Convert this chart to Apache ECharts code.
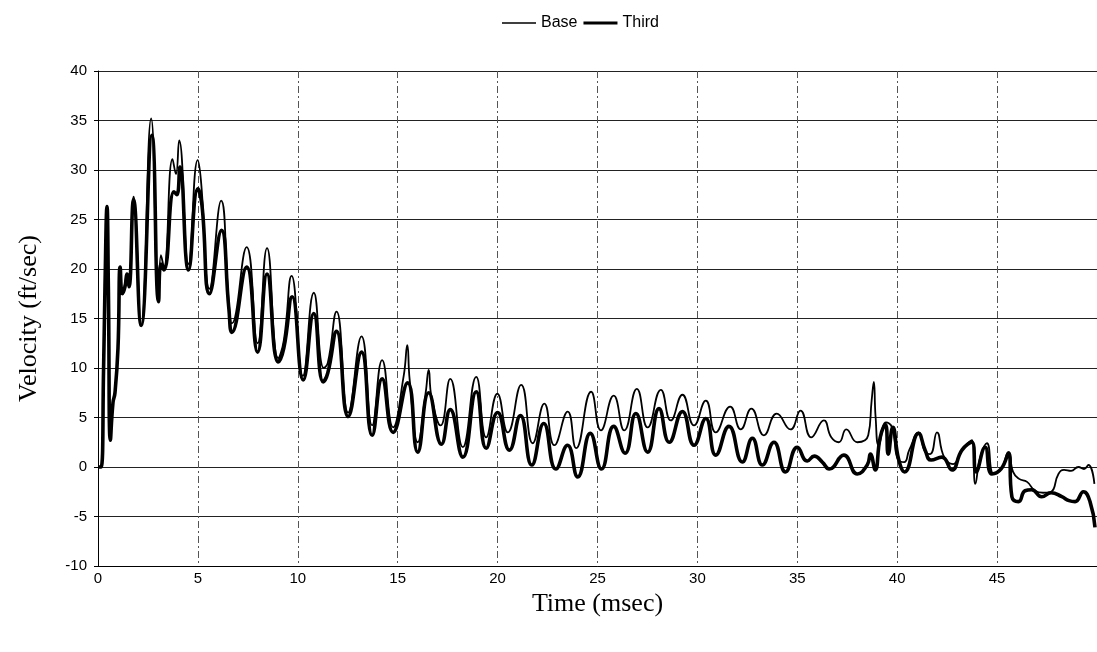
<!DOCTYPE html>
<html>
<head>
<meta charset="utf-8">
<script src="https://cdn.jsdelivr.net/npm/echarts@6/dist/echarts.min.js"></script>
<style>
html,body{margin:0;padding:0;background:#fff;}
#chart{width:1097px;height:652px;}
</style>
</head>
<body>
<div id="chart"></div>
<script>
const seriesNames = ['Base', 'Third'];
const xTicks = [0, 5, 10, 15, 20, 25, 30, 35, 40, 45];
const yTicks = [-10, -5, 0, 5, 10, 15, 20, 25, 30, 35, 40];

// Base: [time (msec), velocity (ft/sec)]
const baseData = [
 [0,0],[0.15,0],[0.28,10],[0.35,18.3],[0.45,26.3],[0.52,18],[0.62,3],[0.75,6.5],[0.85,7.5],[1.0,12],
 [1.11,20.2],[1.22,17.5],[1.35,18.5],[1.45,19.5],[1.55,18.5],[1.78,27.3],[2.16,14.3],[2.66,35.2],[3.03,16.7],[3.15,21.4],
 [3.3,20.2],[3.73,31.1],[3.9,29.6],[4.06,33],[4.53,20.5],[4.99,31],[5.15,29],[5.58,18],[6.16,26.9],[6.55,16.5],
 [6.7,14.5],[7.44,22.2],[7.99,12.5],[8.46,22.1],[9.02,11],[9.3,12.8],[9.69,19.3],[10.25,9.2],[10.8,17.6],[11.3,10],
 [11.5,10.5],[11.94,15.7],[12.52,5.5],[13.19,13.2],[13.72,4.2],[14.22,10.8],[14.77,4],[15.3,9.2],[15.48,12.3],[15.6,8.8],
 [16.0,2.5],[16.4,7.5],[16.55,9.8],[16.7,7],[17.15,4.2],[17.63,8.9],[18.26,2],[18.93,9.1],[19.43,3],[19.99,7.4],
 [20.51,3.5],[21.18,8.3],[21.76,2.4],[22.34,6.4],[22.84,2.2],[23.51,5.6],[23.93,1.9],[24.68,7.6],[25.17,3.7],[25.81,7.2],
 [26.34,3.7],[26.97,7.9],[27.51,4.0],[28.17,7.8],[28.67,4.7],[29.25,7.3],[29.83,4.2],[30.42,6.7],[30.92,3.5],[31.64,6.1],
 [32.17,3.8],[32.7,5.9],[33.33,3.2],[33.97,5.4],[34.66,3.8],[35.16,5.7],[35.7,3.0],[36.33,4.7],[36.7,3.0],[37.08,2.5],
 [37.45,3.8],[38.0,2.5],[38.55,3.2],[38.72,6.7],[38.83,8.6],[38.92,5],[39.08,2.2],[39.44,4.5],[39.74,4.0],[40.05,0.7],
 [40.35,0.5],[40.6,1.7],[41.07,3.5],[41.4,1.5],[41.65,1.3],[41.99,3.5],[42.35,1.0],[42.8,0.3],[43.24,1.7],[43.74,2.7],
 [43.91,-1.7],[44.16,1.0],[44.49,2.4],[44.83,-0.7],[45.2,-0.2],[45.57,1.5],[45.8,-0.5],[46.1,-1.2],[46.5,-1.5],[46.9,-2.4],
 [47.3,-2.6],[47.7,-2.5],[48.07,-0.7],[48.35,-0.3],[48.7,-0.4],[49.07,0],[49.35,-0.2],[49.57,0.2],[49.87,-1.7]
];

// Third: [time (msec), velocity (ft/sec)]
const thirdData = [
 [0,0],[0.15,0],[0.28,10],[0.35,18.3],[0.45,26.3],[0.52,18],[0.62,2.7],[0.75,6.5],[0.85,7.5],[1.0,12],
 [1.11,20.2],[1.22,17.5],[1.35,18.2],[1.45,19.5],[1.55,18.2],[1.78,27],[2.16,14.3],[2.7,33.5],[3.03,16.7],[3.15,20.5],
 [3.3,19.9],[3.8,27.8],[3.95,27.5],[4.1,30.3],[4.53,19.9],[5.0,28.1],[5.2,26.5],[5.58,17.5],[6.18,23.9],[6.55,16],
 [6.7,13.6],[7.44,20.2],[7.99,11.6],[8.46,19.5],[9.02,10.6],[9.3,12],[9.72,17.2],[10.27,8.8],[10.8,15.5],[11.27,8.6],
 [11.5,9.5],[11.94,13.7],[12.52,5.1],[13.19,11.6],[13.72,3.2],[14.22,8.9],[14.77,3.5],[15.5,8.5],[16.0,1.5],[16.55,7.5],
 [17.19,2.3],[17.63,5.8],[18.26,1.0],[18.93,7.6],[19.43,1.9],[20.0,5.5],[20.59,1.7],[21.14,5.2],[21.71,0.2],[22.31,4.4],
 [22.92,-0.2],[23.5,2.2],[24.01,-1.0],[24.64,3.4],[25.2,-0.2],[25.81,4.1],[26.38,1.4],[26.92,5.4],[27.51,1.5],[28.08,5.9],
 [28.59,2.5],[29.25,5.6],[29.83,2.2],[30.42,4.9],[30.92,1.2],[31.58,4.1],[32.25,0.5],[32.75,2.9],[33.25,0.2],[33.83,2.5],
 [34.41,-0.5],[35.0,2.0],[35.5,0.6],[35.85,1.1],[36.25,0.5],[36.6,-0.2],[37.33,1.2],[38.0,-0.7],[38.5,0.2],[38.66,1.3],
 [38.9,-0.3],[39.15,3.0],[39.41,4.3],[39.55,1.3],[39.78,4.0],[40.08,0.7],[40.37,-0.5],[41.07,3.4],[41.4,1.7],[41.7,0.7],
 [42.24,1.0],[42.74,-0.3],[43.24,1.7],[43.74,2.5],[43.95,-0.5],[44.4,2.0],[44.74,-0.7],[45.2,-0.2],[45.57,1.4],[45.74,-3.0],
 [46.07,-3.5],[46.4,-2.4],[46.73,-2.3],[47.23,-3.0],[47.7,-2.6],[48.24,-3.0],[48.6,-3.4],[48.9,-3.5],[49.32,-2.5],[49.65,-3.5],
 [49.9,-6.1]
];

const chart = echarts.init(document.getElementById('chart'), null, {renderer: 'canvas'});
const sansFont = 'Liberation Sans, Arial, sans-serif';
const serifFont = 'Liberation Serif, Times New Roman, serif';

chart.setOption({
  animation: false,
  backgroundColor: '#ffffff',
  legend: {
    left: 497,
    top: 10,
    itemGap: 6,
    itemWidth: 34,
    itemHeight: 6,
    textStyle: {fontFamily: sansFont, fontSize: 16, color: '#000'},
    data: [
      {name: seriesNames[0], icon: 'path://M0,0L1,0L1,0.01Z M0,2.3L35,2.3L35,3.7L0,3.7Z M34,6L35,6L35,5.99Z', itemStyle: {color: '#000'}},
      {name: seriesNames[1], icon: 'path://M0,0L1,0L1,0.01Z M0,1.5L35,1.5L35,4.5L0,4.5Z M34,6L35,6L35,5.99Z', itemStyle: {color: '#000'}}
    ]
  },
  grid: {left: 98, right: -2, top: 71, bottom: 86, containLabel: false},
  xAxis: {
    type: 'value',
    min: 0, max: 50, interval: 5,
    name: 'Time (msec)',
    nameLocation: 'middle',
    nameGap: 24,
    nameTextStyle: {fontFamily: serifFont, fontSize: 26, color: '#000', verticalAlign: 'top'},
    axisLine: {show: true, onZero: false, lineStyle: {color: '#000', width: 1}},
    axisTick: {show: false},
    axisLabel: {
      fontFamily: sansFont, fontSize: 15, color: '#000', margin: 5,
      showMaxLabel: false,
      formatter: v => xTicks.indexOf(v) >= 0 ? String(v) : ''
    },
    splitLine: {show: true, lineStyle: {color: '#555', width: 1, type: [7, 3, 2, 3]}}
  },
  yAxis: {
    type: 'value',
    min: -10, max: 40, interval: 5,
    name: 'Velocity (ft/sec)',
    nameLocation: 'middle',
    nameGap: 56,
    nameTextStyle: {fontFamily: serifFont, fontSize: 26, color: '#000'},
    axisLine: {show: true, lineStyle: {color: '#000', width: 1}},
    axisTick: {show: true, length: 4, inside: false, lineStyle: {color: '#000'}},
    axisLabel: {
      fontFamily: sansFont, fontSize: 15, color: '#000', margin: 11,
      formatter: v => yTicks.indexOf(v) >= 0 ? String(v) : ''
    },
    splitLine: {show: true, lineStyle: {color: '#222', width: 1, type: 'solid'}}
  },
  series: [
    {
      name: seriesNames[1],
      type: 'line',
      data: thirdData,
      showSymbol: false,
      symbol: 'none',
      smooth: 0.5,
      lineStyle: {color: '#000', width: 3.6},
      itemStyle: {color: '#000'},
      z: 2
    },
    {
      name: seriesNames[0],
      type: 'line',
      data: baseData,
      showSymbol: false,
      symbol: 'none',
      smooth: 0.5,
      lineStyle: {color: '#000', width: 1.8},
      itemStyle: {color: '#000'},
      z: 3
    }
  ]
});
</script>
</body>
</html>
